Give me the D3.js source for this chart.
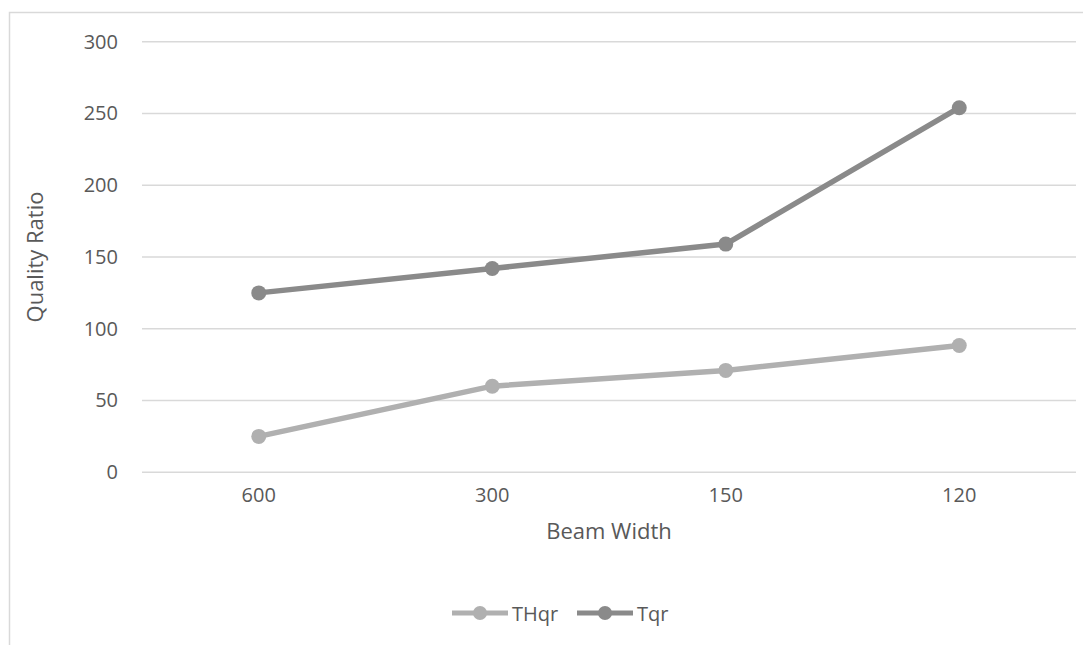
<!DOCTYPE html>
<html>
<head>
<meta charset="utf-8">
<script src="https://cdn.jsdelivr.net/npm/d3@7/dist/d3.min.js"></script>
<style>
  html, body { margin: 0; padding: 0; background: #ffffff; }
  svg { display: block; }
  text { font-family: "Open Sans", "Noto Sans", sans-serif; fill: #595959; }
</style>
</head>
<body>
<svg id="chart" width="1083" height="645"></svg>
<script>
// Beam width categories and quality ratios per series
const categories = ["600", "300", "150", "120"];
const thqrValues = [25, 60, 71, 88.3];
const tqrValues = [125, 142, 159, 254];
const yTicks = [0, 50, 100, 150, 200, 250, 300];
const seriesNames = ["THqr", "Tqr"];
const seriesColors = ["#b0b0b0", "#8a8a8a"];

const svg = d3.select("#chart");
const W = 1083, H = 645;

// chart frame
svg.append("rect")
  .attr("x", 9.5).attr("y", 12.5)
  .attr("width", W + 10).attr("height", H + 10)
  .attr("fill", "#ffffff")
  .attr("stroke", "#d9d9d9").attr("stroke-width", 1.5);

const plot = { left: 142, right: 1076, top: 41.7, bottom: 472.3 };

const x = d3.scaleBand().domain(categories).range([plot.left, plot.right]).padding(0);
const y = d3.scaleLinear().domain([0, 300]).range([plot.bottom, plot.top]);
const cx = d => x(d) + x.bandwidth() / 2;

// horizontal gridlines
svg.append("g")
  .selectAll("line")
  .data(yTicks)
  .join("line")
  .attr("x1", plot.left).attr("x2", plot.right)
  .attr("y1", d => y(d)).attr("y2", d => y(d))
  .attr("stroke", "#d9d9d9").attr("stroke-width", 1.5);

// y tick labels
const yAxis = d3.axisLeft(y).tickValues(yTicks).tickSize(0).tickPadding(0);
const gy = svg.append("g").attr("transform", `translate(118,0)`).call(yAxis);
gy.select(".domain").remove();
gy.selectAll("text")
  .attr("font-size", 20)
  .attr("font-family", "'Open Sans', sans-serif")
  .attr("fill", "#595959");

// x tick labels
const xAxis = d3.axisBottom(x).tickSize(0).tickPadding(0);
const gx = svg.append("g").attr("transform", `translate(0,${plot.bottom + 15})`).call(xAxis);
gx.select(".domain").remove();
gx.selectAll("text")
  .attr("font-size", 20)
  .attr("font-family", "'Open Sans', sans-serif")
  .attr("fill", "#595959");

// axis titles
svg.append("text")
  .attr("x", (plot.left + plot.right) / 2).attr("y", 530)
  .attr("text-anchor", "middle").attr("dominant-baseline", "central")
  .attr("font-size", 22)
  .text("Beam Width");

svg.append("text")
  .attr("transform", `translate(34,${(plot.top + plot.bottom) / 2}) rotate(-90)`)
  .attr("text-anchor", "middle").attr("dominant-baseline", "central")
  .attr("font-size", 22)
  .text("Quality Ratio");

// series lines and markers
const series = [thqrValues, tqrValues];
const line = d3.line().x((d, i) => cx(categories[i])).y(d => y(d));

series.forEach((vals, s) => {
  const g = svg.append("g");
  g.append("path")
    .datum(vals)
    .attr("d", line)
    .attr("fill", "none")
    .attr("stroke", seriesColors[s])
    .attr("stroke-width", 5.5)
    .attr("stroke-linejoin", "round")
    .attr("stroke-linecap", "round");
  g.selectAll("circle")
    .data(vals)
    .join("circle")
    .attr("cx", (d, i) => cx(categories[i]))
    .attr("cy", d => y(d))
    .attr("r", 7.5)
    .attr("fill", seriesColors[s]);
});

// legend
const legendY = 613;
const legendItems = [
  { name: seriesNames[0], color: seriesColors[0], x0: 452 },
  { name: seriesNames[1], color: seriesColors[1], x0: 577 }
];
legendItems.forEach(item => {
  const g = svg.append("g");
  g.append("line")
    .attr("x1", item.x0).attr("x2", item.x0 + 56)
    .attr("y1", legendY).attr("y2", legendY)
    .attr("stroke", item.color).attr("stroke-width", 5);
  g.append("circle")
    .attr("cx", item.x0 + 28).attr("cy", legendY).attr("r", 7)
    .attr("fill", item.color);
  g.append("text")
    .attr("x", item.x0 + 60).attr("y", legendY)
    .attr("dominant-baseline", "central")
    .attr("font-size", 20)
    .text(item.name);
});
</script>
</body>
</html>
